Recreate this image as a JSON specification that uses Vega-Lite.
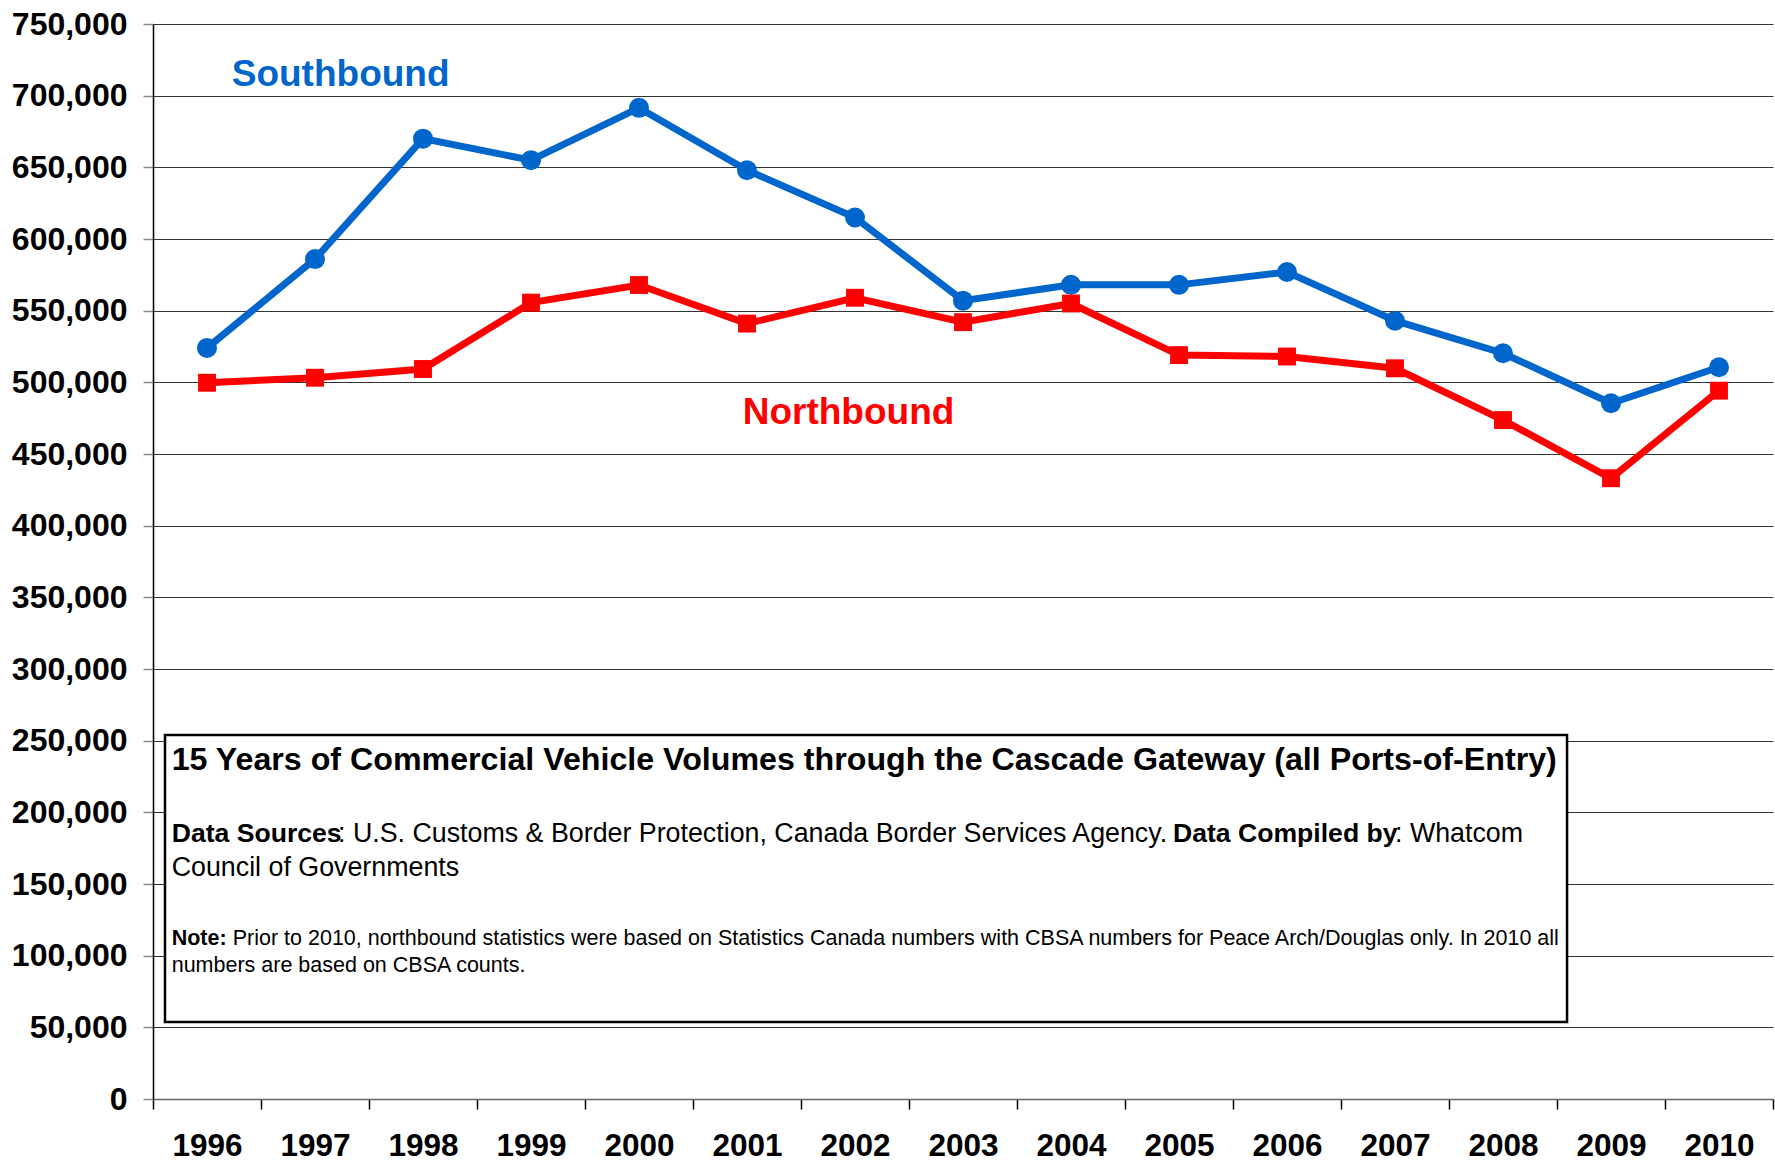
{
  "$schema": "https://vega.github.io/schema/vega-lite/v6.json",
  "width": 1620,
  "height": 1075,
  "autosize": {"type": "none"},
  "padding": {"left": 153, "top": 24, "right": 2, "bottom": 63},
  "background": "white",
  "config": {
    "view": {"stroke": null},
    "font": "Liberation Sans",
    "axisY": {
      "domain": true, "domainColor": "#000000", "domainWidth": 1.5,
      "ticks": true, "tickSize": 10, "tickColor": "#888888", "tickWidth": 1.5,
      "grid": true, "gridColor": "#333333", "gridWidth": 1.2,
      "labelFont": "Liberation Sans", "labelFontSize": 32, "labelFontWeight": "bold", "labelColor": "#000000",
      "labelPadding": 16, "title": null
    },
    "axisX": {
      "domain": true, "domainColor": "#666666", "domainWidth": 1.5,
      "ticks": true, "tickSize": 10, "tickColor": "#000000", "tickWidth": 1.5, "tickBand": "extent",
      "grid": false, "labelAngle": 0,
      "labelFont": "Liberation Sans", "labelFontSize": 31.5, "labelFontWeight": "bold", "labelColor": "#000000",
      "labelBaseline": "alphabetic", "labelPadding": 46, "title": null
    }
  },
  "datasets": {
    "volumes": [
      {"year": "1996", "series": "Southbound", "vehicles": 524000},
      {"year": "1997", "series": "Southbound", "vehicles": 586000},
      {"year": "1998", "series": "Southbound", "vehicles": 670000},
      {"year": "1999", "series": "Southbound", "vehicles": 655000},
      {"year": "2000", "series": "Southbound", "vehicles": 691500},
      {"year": "2001", "series": "Southbound", "vehicles": 648000},
      {"year": "2002", "series": "Southbound", "vehicles": 615000},
      {"year": "2003", "series": "Southbound", "vehicles": 557000},
      {"year": "2004", "series": "Southbound", "vehicles": 568000},
      {"year": "2005", "series": "Southbound", "vehicles": 568000},
      {"year": "2006", "series": "Southbound", "vehicles": 577000},
      {"year": "2007", "series": "Southbound", "vehicles": 543000},
      {"year": "2008", "series": "Southbound", "vehicles": 520300},
      {"year": "2009", "series": "Southbound", "vehicles": 485400},
      {"year": "2010", "series": "Southbound", "vehicles": 510500},
      {"year": "1996", "series": "Northbound", "vehicles": 499700},
      {"year": "1997", "series": "Northbound", "vehicles": 503200},
      {"year": "1998", "series": "Northbound", "vehicles": 509300},
      {"year": "1999", "series": "Northbound", "vehicles": 555600},
      {"year": "2000", "series": "Northbound", "vehicles": 567900},
      {"year": "2001", "series": "Northbound", "vehicles": 541000},
      {"year": "2002", "series": "Northbound", "vehicles": 559000},
      {"year": "2003", "series": "Northbound", "vehicles": 542000},
      {"year": "2004", "series": "Northbound", "vehicles": 555000},
      {"year": "2005", "series": "Northbound", "vehicles": 519000},
      {"year": "2006", "series": "Northbound", "vehicles": 518000},
      {"year": "2007", "series": "Northbound", "vehicles": 509800},
      {"year": "2008", "series": "Northbound", "vehicles": 473700},
      {"year": "2009", "series": "Northbound", "vehicles": 433100},
      {"year": "2010", "series": "Northbound", "vehicles": 494200}
    ],
    "seriesLabels": [
      {"series": "Southbound", "xpos": 0.729, "vehicles": 706700},
      {"series": "Northbound", "xpos": 5.46, "vehicles": 470700}
    ],
    "box": [
      {"x1": 0.111, "x2": 13.093, "y1": 53700, "y2": 253950}
    ],
    "titleText": [
      {"text": "15 Years of Commercial Vehicle Volumes through the Cascade Gateway (all Ports-of-Entry)", "xpos": 0.173, "vehicles": 229500}
    ],
    "boldText": [
      {"text": "Data Sources", "xpos": 0.173, "vehicles": 179500},
      {"text": "Data Compiled by", "xpos": 9.444, "vehicles": 179500}
    ],
    "plainText": [
      {"text": ": U.S. Customs & Border Protection, Canada Border Services Agency.", "xpos": 1.713, "vehicles": 179500},
      {"text": ": Whatcom", "xpos": 11.5, "vehicles": 179500},
      {"text": "Council of Governments", "xpos": 0.173, "vehicles": 155600}
    ],
    "noteBold": [
      {"text": "Note:", "xpos": 0.173, "vehicles": 107400}
    ],
    "notePlain": [
      {"text": "Prior to 2010, northbound statistics were based on Statistics Canada numbers with CBSA numbers for Peace Arch/Douglas only. In 2010 all", "xpos": 0.738, "vehicles": 107400},
      {"text": "numbers are based on CBSA counts.", "xpos": 0.173, "vehicles": 88800}
    ]
  },
  "layer": [
    {
      "layer": [
        {
          "data": {"name": "box"},
          "mark": {"type": "rect", "fill": "#ffffff", "stroke": "#000000", "strokeWidth": 2.5},
          "encoding": {
            "x": {"field": "x1", "type": "quantitative", "scale": {"domain": [0, 15], "nice": false, "zero": false}, "axis": null},
            "x2": {"field": "x2"},
            "y": {"field": "y1", "type": "quantitative", "scale": {"domain": [0, 750000], "nice": false}, "axis": {"values": [0, 50000, 100000, 150000, 200000, 250000, 300000, 350000, 400000, 450000, 500000, 550000, 600000, 650000, 700000, 750000], "format": ",d", "title": null}},
            "y2": {"field": "y2"}
          }
        },
        {
          "data": {"name": "titleText"},
          "mark": {"type": "text", "align": "left", "baseline": "alphabetic", "fontSize": 32.2, "fontWeight": "bold", "color": "#000000"},
          "encoding": {
            "x": {"field": "xpos", "type": "quantitative", "axis": null},
            "y": {"field": "vehicles", "type": "quantitative", "axis": {"format": ",d", "title": null}},
            "text": {"field": "text"}
          }
        },
        {
          "data": {"name": "boldText"},
          "mark": {"type": "text", "align": "left", "baseline": "alphabetic", "fontSize": 26.6, "fontWeight": "bold", "color": "#000000"},
          "encoding": {
            "x": {"field": "xpos", "type": "quantitative", "axis": null},
            "y": {"field": "vehicles", "type": "quantitative", "axis": {"format": ",d", "title": null}},
            "text": {"field": "text"}
          }
        },
        {
          "data": {"name": "plainText"},
          "mark": {"type": "text", "align": "left", "baseline": "alphabetic", "fontSize": 26.8, "fontWeight": "normal", "color": "#000000"},
          "encoding": {
            "x": {"field": "xpos", "type": "quantitative", "axis": null},
            "y": {"field": "vehicles", "type": "quantitative", "axis": {"format": ",d", "title": null}},
            "text": {"field": "text"}
          }
        },
        {
          "data": {"name": "noteBold"},
          "mark": {"type": "text", "align": "left", "baseline": "alphabetic", "fontSize": 21.5, "fontWeight": "bold", "color": "#000000"},
          "encoding": {
            "x": {"field": "xpos", "type": "quantitative", "axis": null},
            "y": {"field": "vehicles", "type": "quantitative", "axis": {"format": ",d", "title": null}},
            "text": {"field": "text"}
          }
        },
        {
          "data": {"name": "notePlain"},
          "mark": {"type": "text", "align": "left", "baseline": "alphabetic", "fontSize": 21.5, "fontWeight": "normal", "color": "#000000"},
          "encoding": {
            "x": {"field": "xpos", "type": "quantitative", "axis": null},
            "y": {"field": "vehicles", "type": "quantitative", "axis": {"format": ",d", "title": null}},
            "text": {"field": "text"}
          }
        },
        {
          "data": {"name": "seriesLabels"},
          "mark": {"type": "text", "align": "left", "baseline": "alphabetic", "fontSize": 37, "fontWeight": "bold"},
          "encoding": {
            "x": {"field": "xpos", "type": "quantitative", "axis": null},
            "y": {"field": "vehicles", "type": "quantitative", "axis": {"format": ",d", "title": null}},
            "text": {"field": "series"},
            "color": {"field": "series", "type": "nominal", "scale": {"domain": ["Southbound", "Northbound"], "range": ["#0066CC", "#FF0000"]}, "legend": null}
          }
        }
      ]
    },
    {
      "data": {"name": "volumes"},
      "layer": [
        {
          "mark": {"type": "line", "strokeWidth": 7},
          "encoding": {
            "x": {"field": "year", "type": "ordinal", "bandPosition": 0.5, "scale": {"type": "band", "paddingInner": 0, "paddingOuter": 0}, "axis": {"title": null}},
            "y": {"field": "vehicles", "type": "quantitative", "scale": {"domain": [0, 750000], "nice": false}, "axis": {"values": [0, 50000, 100000, 150000, 200000, 250000, 300000, 350000, 400000, 450000, 500000, 550000, 600000, 650000, 700000, 750000], "format": ",d", "title": null}},
            "color": {"field": "series", "type": "nominal", "scale": {"domain": ["Southbound", "Northbound"], "range": ["#0066CC", "#FF0000"]}, "legend": null},
            "detail": {"field": "series"}
          }
        },
        {
          "mark": {"type": "point", "filled": true, "opacity": 1},
          "encoding": {
            "x": {"field": "year", "type": "ordinal", "bandPosition": 0.5},
            "y": {"field": "vehicles", "type": "quantitative"},
            "color": {"field": "series", "type": "nominal", "legend": null},
            "shape": {"field": "series", "type": "nominal", "scale": {"domain": ["Southbound", "Northbound"], "range": ["circle", "square"]}, "legend": null},
            "size": {"field": "series", "type": "nominal", "scale": {"domain": ["Southbound", "Northbound"], "range": [400, 320]}, "legend": null}
          }
        }
      ]
    }
  ],
  "resolve": {"scale": {"x": "independent"}, "axis": {"x": "independent"}}
}
